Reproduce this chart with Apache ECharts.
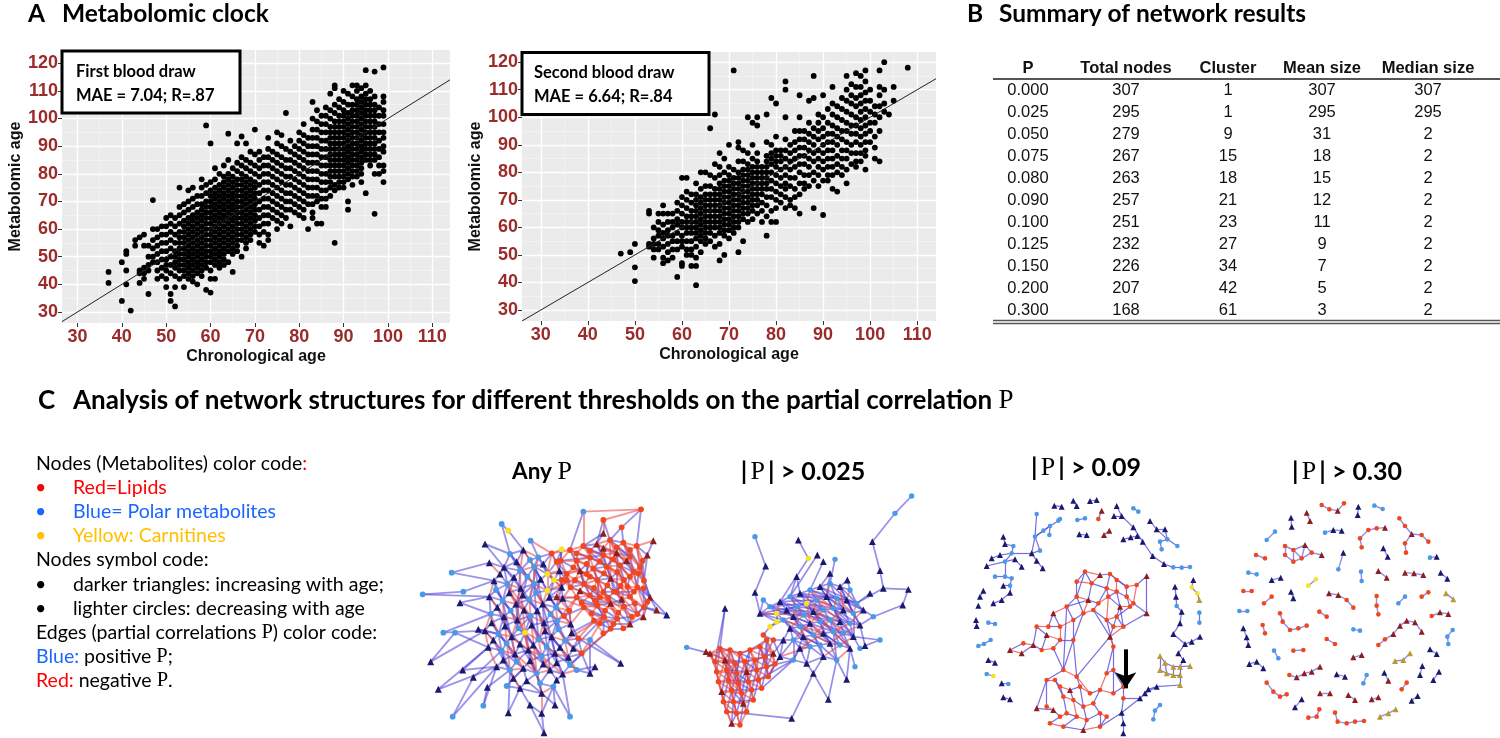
<!DOCTYPE html>
<html>
<head>
<meta charset="utf-8">
<script src="https://cdn.jsdelivr.net/npm/echarts@6/dist/echarts.min.js"></script>
<style>
html, body { margin: 0; padding: 0; background: #fff; }
#chart { width: 1500px; height: 738px; }
</style>
</head>
<body>
<div id="chart"></div>
<script>
// ── Panel A: metabolomic clock scatter (one row per chronological age: [age, metabolomic ages...]) ──
const ageTicks = [30, 40, 50, 60, 70, 80, 90, 100, 110]
const ageMinor = [35, 45, 55, 65, 75, 85, 95, 105]
const metTicks = [30, 40, 50, 60, 70, 80, 90, 100, 110, 120]
const metMinor = [35, 45, 55, 65, 75, 85, 95, 105, 115]

const firstDraw = [
	[37, 44.5, 40.5],
	[40, 48, 34],
	[41, 52, 51, 45, 40],
	[42, 30.5],
	[43, 56, 54],
	[44, 57, 45, 44, 40.5],
	[45, 58, 54, 46, 44, 42],
	[46, 54, 50, 47, 45, 36.5],
	[47, 70.5, 60, 56, 53, 50, 48],
	[48, 60, 57, 54, 51, 48, 45, 42],
	[49, 61, 58, 55, 52, 49, 46, 43],
	[50, 64, 61, 58, 55, 52, 49, 47, 45, 42, 39],
	[51, 65, 62, 59, 56, 53, 50, 47, 44, 36.5, 34],
	[52, 64, 61, 58, 55, 52, 50, 48, 46, 43, 39, 32],
	[53, 75, 68, 65, 62, 59, 57, 55, 53, 51, 49, 47, 45, 42],
	[54, 69, 66, 63, 61, 59, 57, 55, 53, 51, 49, 47, 45, 43, 39],
	[55, 74, 70, 67, 64, 62, 60, 58, 56, 54, 52, 50, 48, 46, 44, 42],
	[56, 75, 71, 68, 65, 63, 61, 59, 57, 55, 53, 51, 49, 47, 45, 43, 41],
	[57, 72, 69, 66, 64, 62, 60, 58, 56, 54, 52, 50, 48, 46, 44, 40],
	[58, 78, 75, 72, 69, 67, 65, 63, 61, 59, 57, 55, 53, 51, 49, 47, 45, 43],
	[59, 97.5, 76, 73, 70, 68, 66, 64, 62, 60, 58, 56, 54, 52, 50, 48, 46, 38],
	[60, 91, 77, 74, 72, 70, 68, 66, 64, 62, 60, 58, 56, 54, 52, 50, 48, 45, 42, 37],
	[61, 82, 78, 75, 73, 71, 69, 67, 65, 63, 61, 59, 57, 55, 53, 51, 49, 47, 42],
	[62, 80, 76, 74, 72, 70, 68, 66, 64, 62, 60, 58, 56, 54, 52, 50, 48, 46],
	[63, 83, 79, 77, 75, 73, 71, 69, 67, 65, 63, 61, 59, 57, 55, 53, 51, 49, 47],
	[64, 94.5, 85, 80, 78, 76, 74, 72, 70, 68, 66, 64, 62, 60, 58, 56, 54, 52, 48],
	[65, 82, 79, 77, 75, 73, 71, 69, 67, 65, 63, 61, 59, 57, 55, 53, 51, 44.5],
	[66, 91, 84, 81, 78, 76, 74, 72, 70, 68, 66, 64, 62, 60, 58, 56, 54, 52],
	[67, 93.5, 86, 83, 80, 78, 76, 74, 72, 70, 68, 66, 64, 62, 60, 58, 56, 50],
	[68, 91, 85, 82, 79, 77, 75, 73, 71, 69, 67, 65, 63, 61, 59, 57, 55, 53],
	[69, 88, 84, 81, 78, 76, 74, 72, 70, 68, 66, 64, 62, 60, 58, 56],
	[70, 96, 87, 83, 80, 77, 75, 73, 71, 69, 67, 65, 63, 61, 59],
	[71, 88, 85, 82, 79, 76, 73, 70, 67, 64, 61, 58, 55],
	[72, 86, 83, 80, 77, 74, 71, 68, 65, 62, 59, 54],
	[73, 93, 89, 86, 83, 80, 77, 74, 71, 68, 65, 62, 58, 56],
	[74, 88, 85, 82, 79, 76, 73, 70, 67, 64],
	[75, 95, 91, 87, 84, 81, 78, 75, 72, 69, 66, 63, 60],
	[76, 94, 90, 86, 83, 80, 77, 74, 71, 68, 65, 62],
	[77, 102, 89, 85, 82, 79, 76, 73, 70, 67, 64],
	[78, 92, 88, 85, 82, 79, 76, 73, 70, 67, 61],
	[79, 90, 87, 84, 81, 78, 75, 72, 69, 66],
	[80, 95, 92, 89, 86, 83, 80, 77, 74, 71, 68, 65],
	[81, 98, 94, 91, 88, 85, 82, 79, 76, 73, 70, 67, 64],
	[82, 93, 90, 87, 84, 81, 78, 75, 72, 69, 60],
	[83, 106, 100, 96, 93, 90, 87, 84, 81, 78, 75, 72, 69, 66, 64],
	[84, 103, 99, 96, 93, 90, 87, 84, 81, 78, 75, 72, 70, 62],
	[85, 101, 98, 95, 92, 89, 86, 83, 80, 77, 74, 71, 68, 62],
	[86, 104, 101, 98, 95, 92, 89, 86, 83, 80, 77, 74, 71, 68],
	[87, 109, 103, 100, 97, 95, 93, 91, 89, 87, 85, 83, 81, 79, 77, 75, 72],
	[88, 112, 111, 105, 102, 99, 97, 95, 93, 91, 89, 87, 85, 83, 81, 79, 76, 74, 55],
	[89, 107, 104, 101, 99, 97, 95, 93, 91, 89, 87, 85, 83, 81, 79, 77, 75],
	[90, 110, 106, 103, 101, 99, 97, 95, 93, 91, 89, 87, 85, 83, 81, 79, 77, 75],
	[91, 109, 105, 102, 100, 98, 96, 94, 92, 90, 88, 86, 84, 82, 80, 78, 70, 67],
	[92, 112, 108, 105, 103, 101, 99, 97, 95, 93, 91, 89, 87, 85, 83, 81, 79, 76],
	[93, 112, 110, 107, 105, 103, 101, 99, 97, 95, 93, 91, 89, 87, 85, 83, 81, 79],
	[94, 111, 108, 106, 104, 102, 100, 98, 96, 94, 92, 90, 88, 86, 84, 82, 80, 77],
	[95, 117.5, 112, 109, 107, 105, 103, 101, 99, 97, 95, 93, 91, 89, 87, 85, 73],
	[96, 110, 107, 105, 103, 101, 99, 97, 95, 93, 91, 89, 87, 85, 83],
	[97, 117, 108, 105, 103, 101, 99, 97, 95, 93, 91, 89, 87, 85, 80, 65.5],
	[98, 104, 101, 98, 95, 92, 89, 86, 83, 80],
	[99, 118.5, 108, 106, 103, 101, 98, 95, 93, 90, 88, 83, 81, 77],
]

const secondDraw = [
	[47, 50.5],
	[49, 51],
	[50, 54, 45.5, 40.5],
	[53, 66, 65, 54, 53],
	[54, 60, 56, 54, 52, 49],
	[55, 65, 62, 59, 57, 54, 52],
	[56, 68, 65, 61, 58, 56, 53, 49, 47],
	[57, 65, 62, 59, 57, 54, 51, 48],
	[58, 65, 62, 60, 57, 55, 52, 49],
	[59, 69, 66, 63, 61, 58, 55, 52, 42],
	[60, 78, 71, 68, 65, 62, 60, 57, 55, 53, 47, 46],
	[61, 78, 73, 70, 67, 64, 62, 60, 58, 55, 52, 50],
	[62, 72, 69, 66, 64, 62, 60, 58, 55, 52, 50, 46],
	[63, 76, 72, 70, 68, 66, 64, 62, 60, 58, 56, 53, 49, 46, 39],
	[64, 80, 74, 71, 69, 67, 65, 63, 61, 59, 57, 55, 51],
	[65, 80, 75, 72, 70, 68, 66, 64, 62, 60, 58, 56, 54],
	[66, 96, 79, 75, 72, 70, 68, 66, 64, 62, 60, 58, 55],
	[67, 101, 83, 78, 74, 72, 70, 68, 66, 64, 62, 60, 57, 53],
	[68, 87, 82, 79, 76, 74, 72, 70, 68, 66, 64, 62, 60, 58, 54, 48],
	[69, 85, 80, 77, 75, 73, 71, 69, 67, 65, 63, 61, 59, 57, 50],
	[70, 90, 82, 79, 77, 75, 73, 71, 69, 67, 65, 63, 61, 59, 56],
	[71, 117, 81, 78, 76, 74, 72, 70, 68, 66, 64, 62, 60, 58],
	[72, 91, 89, 84, 80, 78, 76, 74, 72, 70, 68, 66, 64, 62, 60, 51],
	[73, 88, 84, 81, 79, 77, 75, 73, 71, 69, 67, 65, 63, 55],
	[74, 100, 87, 83, 81, 79, 77, 75, 73, 71, 69, 67, 65, 62],
	[75, 98, 90, 85, 82, 80, 78, 76, 74, 72, 70, 68, 66, 63],
	[76, 100, 97, 87, 84, 82, 80, 78, 76, 74, 72, 70, 68, 65],
	[77, 82, 80, 78, 76, 74, 72, 69, 66, 62],
	[78, 101, 91, 86, 84, 82, 80, 78, 76, 74, 71, 68, 64, 57],
	[79, 107, 90, 87, 85, 83, 80, 77, 74, 71, 66, 62],
	[80, 105, 93, 88, 86, 84, 82, 79, 76, 73, 70, 67, 62],
	[81, 88, 86, 84, 81, 78, 75, 72, 69],
	[82, 113, 110, 100, 92, 88, 85, 82, 79, 76, 74, 71, 67],
	[83, 90, 87, 84, 81, 78, 75, 70, 68],
	[84, 95, 91, 88, 85, 82, 78, 74, 71, 67],
	[85, 108, 100, 95, 92, 89, 86, 83, 80, 76, 72, 65],
	[86, 95, 92, 89, 86, 83, 79, 76, 74],
	[87, 106, 98, 94, 91, 88, 85, 82, 79, 75],
	[88, 115, 107, 96, 93, 90, 87, 84, 80, 77, 67],
	[89, 101, 98, 95, 92, 88, 85, 82, 79, 75],
	[90, 108, 100, 96, 93, 90, 87, 84, 81, 77, 64.5],
	[91, 103, 98, 94, 91, 88, 85, 82, 79, 77],
	[92, 111, 105, 101, 97, 94, 91, 88, 85, 82, 79, 74],
	[93, 104, 100, 96, 93, 90, 86, 83, 80, 73],
	[94, 107, 103, 99, 95, 92, 88, 85, 82, 79],
	[95, 115, 110, 106, 102, 98, 95, 91, 88, 85, 81, 76],
	[96, 112, 108, 105, 101, 97, 94, 90, 87, 83],
	[97, 116, 111, 107, 104, 100, 97, 94, 91, 87, 84, 82],
	[98, 115, 111, 108, 105, 102, 99, 96, 93, 90, 87, 84],
	[99, 117, 113, 109, 106, 103, 100, 97, 94, 91, 88, 86, 81],
	[100, 110, 106, 102, 98, 95, 91],
	[101, 104, 101, 98, 93, 89, 85],
	[102, 117, 111, 108, 104, 100, 95, 84],
	[103, 120, 110, 105, 102],
	[104, 101],
	[105, 111, 106],
	[108, 118],
]

// ── Panel B: summary table ──
const tableHead = ['P', 'Total nodes', 'Cluster', 'Mean size', 'Median size']
const thresholdP = ['0.000', '0.025', '0.050', '0.075', '0.080', '0.090', '0.100', '0.125', '0.150', '0.200', '0.300']
const totalNodes = [307, 295, 279, 267, 263, 257, 251, 232, 226, 207, 168]
const clusterCount = [1, 1, 9, 15, 18, 21, 23, 27, 34, 42, 61]
const meanSize = [307, 295, 31, 18, 15, 12, 11, 9, 7, 5, 3]
const medianSize = [307, 295, 2, 2, 2, 2, 2, 2, 2, 2, 2]

// ── Panel C: networks. node = [x, y, type]; L lipid circle, l lipid triangle,
//    P polar circle, p polar triangle, C carnitine circle, c carnitine triangle.
//    edges: "a-b" pairs or "a:b,c,d" adjacency ──
const netAnyNodes = [
	[480, 330, 'L'], [520, 318, 'L'], [560, 312, 'l'], [600, 300, 'L'], [640, 308, 'L'], [680, 318, 'L'], [712, 345, 'l'],
	[500, 362, 'L'], [540, 352, 'L'], [580, 345, 'L'], [620, 338, 'l'], [660, 350, 'L'], [690, 382, 'L'],
	[470, 402, 'L'], [510, 392, 'l'], [550, 386, 'L'], [590, 380, 'L'], [630, 376, 'L'], [670, 396, 'L'], [702, 422, 'L'],
	[482, 442, 'L'], [522, 432, 'L'], [562, 420, 'L'], [602, 415, 'l'], [642, 420, 'L'], [682, 442, 'L'], [720, 472, 'l'],
	[500, 472, 'L'], [540, 466, 'L'], [580, 456, 'L'], [620, 456, 'L'], [660, 470, 'L'], [702, 502, 'L'],
	[522, 502, 'L'], [562, 496, 'L'], [602, 490, 'l'], [642, 500, 'L'], [682, 522, 'L'],
	[582, 530, 'L'], [622, 536, 'L'], [660, 552, 'l'], [602, 566, 'L'], [552, 542, 'L'],
	[452, 362, 'L'], [455, 420, 'L'], [440, 470, 'l'], [612, 455, 'L'], [652, 440, 'L'], [570, 472, 'L'], [530, 402, 'L'],
	[300, 342, 'P'], [340, 330, 'p'], [385, 352, 'P'], [425, 340, 'L'], [455, 328, 'C'],
	[282, 382, 'p'], [330, 392, 'P'], [372, 380, 'P'], [412, 402, 'C'], [448, 392, 'p'],
	[252, 422, 'p'], [292, 432, 'P'], [332, 445, 'p'], [372, 432, 'P'], [412, 452, 'C'], [455, 442, 'p'],
	[238, 470, 'p'], [278, 482, 'P'], [318, 492, 'p'], [358, 478, 'P'], [398, 492, 'p'], [438, 502, 'P'], [478, 512, 'L'],
	[242, 522, 'P'], [282, 530, 'p'], [322, 540, 'p'], [362, 528, 'P'], [402, 548, 'p'], [442, 542, 'P'], [482, 552, 'p'],
	[225, 572, 'p'], [265, 582, 'P'], [305, 590, 'p'], [345, 578, 'C'], [385, 598, 'P'], [425, 590, 'p'], [465, 602, 'P'], [505, 595, 'L'],
	[235, 622, 'p'], [275, 632, 'P'], [315, 642, 'p'], [355, 630, 'p'], [395, 648, 'P'], [435, 640, 'p'], [475, 652, 'p'], [515, 640, 'L'],
	[260, 680, 'p'], [300, 690, 'P'], [340, 685, 'p'], [380, 700, 'P'], [420, 690, 'p'], [458, 702, 'p'], [500, 690, 'P'],
	[330, 745, 'p'], [395, 760, 'p'], [430, 740, 'P'], [360, 795, 'p'], [395, 820, 'p'], [540, 600, 'P'], [540, 700, 'p'],
	[520, 215, 'P'], [693, 208, 'L'], [275, 252, 'P'], [295, 272, 'C'], [225, 312, 'p'], [362, 302, 'P'], [125, 398, 'P'], [38, 463, 'P'], [160, 455, 'P'], [150, 488, 'p'],
	[238, 368, 'p'], [730, 302, 'l'], [770, 525, 'p'], [632, 670, 'p'], [62, 665, 'p'], [135, 578, 'P'], [85, 748, 'p'], [128, 830, 'P'], [220, 797, 'P'], [295, 818, 'p'],
	[402, 878, 'p'], [435, 795, 'p'], [480, 830, 'P'], [555, 680, 'p'], [158, 690, 'p'], [190, 712, 'p'], [232, 742, 'p'], [290, 738, 'P'], [100, 578, 'P'], [205, 568, 'p'],
	[740, 510, 'l'], [580, 280, 'l'], [635, 262, 'L'], [580, 240, 'L'],
	[500, 340, 'L'], [540, 332, 'L'], [580, 325, 'l'], [620, 322, 'L'], [660, 330, 'L'], [698, 362, 'L'],
	[490, 382, 'L'], [530, 372, 'L'], [570, 365, 'L'], [610, 358, 'L'], [650, 362, 'l'], [685, 400, 'L'],
	[495, 420, 'L'], [540, 410, 'L'], [582, 400, 'L'], [622, 396, 'L'], [660, 410, 'L'], [700, 445, 'L'],
	[510, 452, 'l'], [552, 444, 'L'], [592, 436, 'L'], [632, 438, 'L'], [672, 455, 'L'], [712, 485, 'L'],
	[515, 488, 'L'], [555, 482, 'L'], [595, 474, 'L'], [635, 478, 'l'], [675, 490, 'L'],
	[545, 520, 'L'], [585, 512, 'L'], [625, 518, 'L'], [665, 530, 'L'], [700, 530, 'l'],
	[570, 550, 'L'], [610, 552, 'L'], [640, 565, 'L'], [580, 580, 'L'],
	[320, 365, 'p'], [360, 360, 'P'], [400, 372, 'p'], [440, 365, 'L'],
	[270, 402, 'p'], [312, 412, 'p'], [352, 410, 'P'], [392, 418, 'p'], [432, 420, 'C'], [470, 420, 'L'],
	[258, 450, 'P'], [298, 458, 'p'], [338, 465, 'p'], [378, 458, 'P'], [418, 472, 'p'], [458, 475, 'p'],
	[262, 502, 'p'], [302, 512, 'P'], [342, 510, 'p'], [382, 512, 'p'], [422, 522, 'P'], [462, 528, 'L'],
	[245, 548, 'p'], [285, 558, 'p'], [325, 565, 'P'], [365, 555, 'p'], [405, 572, 'p'], [445, 568, 'P'], [485, 578, 'p'],
	[250, 600, 'p'], [290, 610, 'P'], [330, 612, 'p'], [370, 615, 'p'], [410, 620, 'P'], [450, 622, 'p'], [490, 625, 'p'],
	[280, 660, 'p'], [320, 665, 'P'], [360, 662, 'p'], [400, 672, 'p'], [440, 668, 'p'], [480, 675, 'P'],
	[310, 715, 'p'], [350, 722, 'p'], [390, 730, 'P'], [440, 720, 'p'],
]
const netAnyPos = `1-2 3-4 5-6 8-9 10-11 14-49 15-16 17-18 20-21 22-23 24-47 25-26 28-48 29-46 30-31 34-35 36-37 38-39
0-7 2-9 4-11 6-12 8-49 10-16 12-18 14-21 15-22 17-24 19-26 21-28 23-29 47-31 26-32 28-34 30-36 32-37 34-38 36-40 38-41
1-9 3-11 8-16 10-18 15-23 21-48 23-46 27-34 29-36 2-16 9-23 16-30 11-25 28-38 33-38 43-8 6-19 12-26 1-16 10-30 7-21 22-34
50-51 52-53 55-56 57-58 60-61 62-63 64-65 66-67 68-69 70-71 73-74 75-76 77-78 80-81 82-83 84-85 86-87 88-89 90-91 92-93 94-95 96-97 98-99 100-101 102-109 103-104 106-107
50-55 52-57 54-59 55-61 57-63 59-65 61-67 63-69 65-71 66-73 68-75 70-77 72-79 74-81 76-83 78-85 79-87 81-89 83-91 85-93 87-95 89-97 91-99 93-101 95-109 99-104 103-106 105-107 108-109
50-56 52-58 55-62 57-64 60-67 62-69 64-71 67-75 69-77 71-79 74-82 76-84 78-86 81-90 83-92 85-94 89-98 91-100 93-102 50-63 56-75 63-84 70-93 77-100 57-70 67-90
110-0 112-50 112-113 113-51 114-50 114-55 115-52 116-60 116-120 117-118 117-66 118-60 119-73 119-66 120-55 121-6 122-26 122-32 123-87 123-108
124-80 124-125 125-88 126-88 126-96 127-96 127-135 128-96 128-136 129-103 129-97 130-106 130-107 131-104 131-105 132-105 132-101 133-102 133-109
134-88 134-96 135-89 136-97 137-98 137-103 138-80 138-73 139-80 139-81 140-26 140-32 141-1 141-2 142-3 142-4 143-2 143-3 111-5 111-142 54-43 59-13 65-44
144:7,8 145:8,9 146:9,10 147:10,11 148:11,12 149:12,19 150:14,43 151:14,49 152:15,16 153:16,17 154:17,18 155:19,25 156:20,21 157:21,22 158:22,23 159:23,24 160:24,47
161:26,32 162:27,28 163:28,48 164:29,46 165:30,46 166:31,30 167:25,37 168:33,34 169:34,35 170:35,46 171:36,35 172:36,37 173:42,38 174:38,39 175:39,40 176:40,39 177:40,26 178:41,39 179:41,40 180:41 181:38
182:50,51,55,56 183:51,52,56 184:52,53,57,58 185:53,54,58 186:55,60,61 187:55,56,61,62 188:56,57,62 189:57,58,63,64 190:58,59,64 191:59,65,13 192:60,61,66,67 193:61,62,67
194:62,63,68,69 195:63,64,69 196:64,65,70,71 197:65,71,72 198:66,67,73,74 199:67,68,74 200:68,69,75,76 201:69,70,76 202:70,71,77,78 203:71,72,78 204:73,74,80,81 205:74,75,81
206:75,76,82,83 207:76,77,83 208:77,78,84,85 209:78,79,85 210:79,86,87 211:80,81,88,89 212:81,82,89 213:82,83,90,91 214:83,84,91 215:84,85,92,93 216:85,86,93 217:86,87,94,95
218:89,90,96,97 219:90,91,97 220:91,92,98,99 221:92,93,99 222:93,94,100,101 223:94,95,101 224:97,98,103 225:98,99,103,104 226:99,100,104,105 227:100,101,105
182:188 183:189 184:190 187:193 188:194 189:195 190:196 192:199 193:200 194:201 195:202 196:203 198:205 199:206 200:207 201:208 202:209 204:212 205:213 206:214 207:215
208:216 209:217 211:218 212:219 213:220 214:221 215:222 216:223 218:224 220:226 191:20 197:27 203:33 210:42 185:13 190:44 196:45 217:38 223:41`
const netAnyNeg = `0-1 2-3 4-5 43-7 7-8 9-10 11-12 13-14 49-15 16-17 18-19 44-20 21-22 23-24 47-25 45-27 27-28 48-29 46-30 31-32 33-34 35-36 42-38 41-39
1-8 3-10 5-12 7-14 9-15 11-17 12-19 13-20 49-22 16-23 18-25 20-27 22-48 24-30 25-32 27-33 29-35 31-37 33-42 35-39 37-40 39-41 43-13 13-44 44-45 43-0
0-8 2-10 4-12 7-15 9-17 14-22 16-24 17-25 20-28 22-29 24-31 28-35 30-37 0-14 4-18 15-29 21-35 3-17 8-22 29-39 45-33 44-21 5-19 3-23 17-36 14-28
51-52 53-54 56-57 58-59 61-62 63-64 67-68 69-70 71-72 74-75 76-77 78-79 81-82 83-84 85-86 89-90 91-92 93-94 95-108 97-98 99-100 101-102 104-105
51-56 53-58 56-62 58-64 60-66 62-68 64-70 67-74 69-76 71-78 73-80 75-82 77-84 80-88 82-90 84-92 86-94 88-96 90-98 92-100 94-102 97-103 104-107 87-108
51-57 53-59 56-63 58-65 61-68 63-70 66-74 68-76 70-78 73-81 75-83 77-85 80-89 82-91 84-93 86-95 90-99 92-101 52-69 61-76 68-91 74-97 83-104 62-83 76-99
72-45 72-27 79-33 87-42 86-38 53-0 58-14 71-20 78-27 64-49 95-41 108-38 110-1 110-111 111-143 115-53 121-5 141-143
144:0,1 145:1,2 146:2,3 147:3,4 148:4,5 149:5,6 150:7,13 151:7,8 152:8,9 153:9,10 154:10,11 155:12,18 156:13,14 157:14,49 158:15,16 159:16,17 160:17,18 161:19,25
162:20,21 163:21,22 164:22,23 165:23,24 166:47,25 167:26,32 168:27,28 169:28,48 170:48,29 171:30,31 172:31,32 173:33,34 174:34,35 175:35,36 176:36,37 177:32,37 178:38,42 179:38,39 180:39,40 181:41,42
144:152 145:153 146:154 147:155 150:157 151:158 152:159 153:160 156:163 157:164 158:165 159:166 162:169 163:170 164:171 165:172 168:174 169:175 170:176 173:179
183:57 185:59 186:120 188:63 190:65 191:44 193:68 195:70 197:45 199:75 201:77 203:79 205:82 207:84 209:86 210:72 212:90 214:92 216:94 219:98 221:100 223:102`

const net025Nodes = [
	[900, 640, 'l'], [930, 625, 'L'], [960, 630, 'L'], [990, 640, 'L'], [1020, 630, 'L'], [1050, 620, 'L'], [1070, 600, 'L'],
	[915, 665, 'L'], [945, 660, 'l'], [975, 670, 'L'], [1005, 665, 'L'], [1035, 660, 'L'], [1065, 650, 'L'], [1090, 640, 'l'],
	[920, 695, 'L'], [950, 690, 'L'], [980, 700, 'L'], [1010, 695, 'l'], [1040, 690, 'L'], [1070, 680, 'L'], [1095, 672, 'L'],
	[925, 725, 'L'], [955, 720, 'L'], [985, 730, 'L'], [1015, 725, 'L'], [1045, 720, 'L'], [1075, 710, 'L'],
	[935, 755, 'l'], [965, 750, 'L'], [995, 760, 'L'], [1025, 750, 'L'], [1055, 745, 'L'],
	[940, 785, 'L'], [970, 785, 'L'], [1000, 790, 'l'], [1030, 780, 'L'],
	[950, 815, 'L'], [980, 820, 'L'], [1010, 815, 'L'],
	[965, 850, 'l'], [990, 855, 'L'],
	[1060, 585, 'L'], [1080, 560, 'C'], [1100, 545, 'C'],
	[1050, 520, 'p'], [1080, 500, 'P'], [1110, 485, 'p'], [1140, 470, 'P'], [1170, 460, 'p'], [1200, 450, 'P'], [1230, 440, 'p'], [1260, 430, 'P'], [1290, 440, 'p'], [1320, 450, 'P'],
	[1100, 520, 'C'], [1130, 510, 'p'], [1160, 500, 'P'], [1190, 490, 'C'], [1220, 480, 'P'], [1250, 470, 'p'], [1280, 475, 'P'], [1310, 480, 'p'], [1340, 490, 'P'],
	[1120, 540, 'P'], [1150, 530, 'p'], [1180, 525, 'P'], [1210, 515, 'p'], [1240, 510, 'P'], [1270, 505, 'P'], [1300, 510, 'p'], [1330, 520, 'P'], [1360, 510, 'p'],
	[1140, 565, 'p'], [1170, 560, 'P'], [1200, 550, 'p'], [1230, 545, 'P'], [1260, 540, 'P'], [1290, 545, 'p'], [1320, 550, 'P'], [1350, 555, 'p'],
	[1150, 600, 'P'], [1180, 590, 'p'], [1210, 585, 'P'], [1240, 580, 'p'], [1270, 575, 'P'], [1300, 580, 'P'], [1330, 590, 'p'],
	[1170, 625, 'p'], [1200, 620, 'P'], [1230, 615, 'P'], [1260, 610, 'p'], [1290, 615, 'P'], [1320, 625, 'p'],
	[1110, 650, 'p'], [1150, 660, 'P'], [1190, 670, 'p'], [1240, 650, 'p'], [1280, 660, 'P'], [1210, 700, 'p'], [1120, 600, 'p'], [1090, 600, 'L'],
	[1505, 168, 'P'], [1455, 220, 'P'], [1387, 305, 'p'], [1410, 392, 'p'], [1420, 445, 'p'], [1495, 448, 'p'], [1478, 495, 'p'], [1390, 530, 'P'], [1035, 290, 'P'], [1067, 378, 'p'],
	[1035, 457, 'p'], [945, 505, 'p'], [830, 622, 'P'], [888, 635, 'l'], [1165, 300, 'p'], [1195, 355, 'C'], [1222, 345, 'p'], [1240, 365, 'p'], [1275, 358, 'P'], [1260, 400, 'p'],
	[1145, 835, 'p'], [1255, 778, 'p'], [1310, 718, 'p'], [1335, 680, 'P'], [1350, 625, 'P'], [1365, 617, 'p'], [1312, 420, 'p'], [1380, 460, 'p'], [1160, 410, 'p'], [1060, 480, 'P'],
	[1410, 600, 'P'],
]
const net025Pos = `3-4 10-11 17-18 24-25 30-31 2-9 5-12 9-16 12-19 16-23 19-26 23-29 29-34 33-37 3-11 10-18 16-24 23-30 28-34 4-10 17-23 3-16 10-24 6-19
6-41 41-42 42-43 41-100 100-93 12-100 13-99 43-54 43-44 42-63 20-93 26-93 19-94 25-94 31-94
44-45 45-46 46-47 47-48 48-49 49-50 50-51 51-52 52-53 54-55 55-56 56-57 57-58 58-59 59-60 60-61 61-62 63-64 64-65 65-66 66-67 67-68 68-69 69-70 70-71
72-73 73-74 74-75 75-76 76-77 77-78 78-79 80-81 81-82 82-83 83-84 84-85 85-86 87-88 88-89 89-90 90-91 91-92 93-94 94-95 95-96 96-97 99-80
44-54 45-54 46-55 47-56 48-57 49-58 50-59 51-60 52-61 53-62 54-63 55-64 56-65 57-66 58-67 59-68 60-69 61-70 62-71 63-72 64-73 65-74 66-75 67-76 68-77 69-78 70-79
72-80 73-81 74-82 75-83 76-84 77-85 78-86 80-87 81-88 82-89 83-90 84-91 85-92 87-94 88-95 89-96 90-97 95-98 96-98
45-55 46-56 47-57 48-58 49-59 50-60 51-61 52-62 55-65 57-67 59-69 61-71 64-74 66-76 68-78 73-82 75-84 77-86 81-89 83-91 47-66 56-75 63-81 70-86 75-90 48-67
101-102 102-103 103-104 104-105 105-62 106-107 107-108 106-105 108-79 108-71 109-110 110-111 111-44 112-7 112-1 113-0 115-116 116-46 117-47 118-49 119-51 120-50 120-59
121-98 121-36 122-98 122-97 123-97 123-92 124-92 125-86 126-79 126-131 127-52 127-53 128-62 129-47 129-48 130-44 130-45 131-86
1-14 2-15 3-16 4-17 5-18 6-12 13-19 8-22 9-22 10-23 11-24 12-25 20-26 15-27 16-28 17-29 18-30 19-31 22-32 23-33 24-34 25-35 28-36 29-37 30-38 33-39 34-40 1-3 4-6 8-10 11-13 15-17 18-20 22-24 28-30 33-35 37-39 5-26 1-23
44-56 45-57 46-58 47-59 48-60 49-61 50-62 54-65 55-66 56-67 57-68 58-69 59-70 60-71 63-73 64-74 65-76 66-77 67-78 68-79 72-81 73-82 74-84 75-85 76-86 80-88 81-89 82-90 83-91 84-92
87-95 88-96 89-97 93-80 94-81 44-63 45-64 46-65 50-68 52-70 55-73 57-75 59-77 61-79 64-82 66-84 68-86 72-88 74-90 76-92 80-94 82-96 84-97 99-72 99-93 100-99`
const net025Neg = `0-1 1-2 2-3 4-5 5-6 7-8 8-9 9-10 11-12 12-13 14-15 15-16 16-17 18-19 19-20 21-22 22-23 23-24 25-26 27-28 28-29 29-30 32-33 33-34 34-35 36-37 37-38 39-40
0-7 1-8 3-10 4-11 6-13 7-14 8-15 10-17 11-18 13-20 14-21 15-22 17-24 18-25 21-27 22-28 24-30 25-31 27-32 28-33 30-35 32-36 34-38 36-39 37-40 38-40
0-8 1-9 2-10 4-12 5-13 7-15 8-16 9-17 11-19 12-20 14-22 15-23 17-25 18-26 21-28 22-29 24-31 27-33 29-35 32-37 1-7 2-8 9-15 11-17 0-9 15-29 20-26 8-21
114-0 114-7 65-75 58-68 60-70 74-83 76-85 82-90 84-92 44-65 49-68 58-77 57-74 73-88 66-84
0-14 1-15 2-16 3-17 4-18 5-19 6-20 7-21 8-22 9-23 10-24 11-25 12-26 14-27 15-28 16-29 17-30 18-31 21-32 22-33 23-34 24-35 27-36 28-37 29-38 32-39 33-40 0-2 3-5 7-9 10-12 14-16 17-19 21-23 24-26 27-29 32-34 36-38 2-22 9-29 16-34
46-54 49-57 51-59 53-61 56-64 58-66 60-68 62-70 65-72 67-74 69-76 71-78 74-80 76-82 78-84 79-85 83-87 85-90 86-91 88-93 91-96 92-97 47-65 52-69 57-76 63-83`

const net09Nodes = [
	[375, 395, 'L'], [420, 405, 'l'], [450, 402, 'L'], [470, 420, 'L'], [500, 440, 'L'], [530, 435, 'L'], [560, 408, 'l'],
	[350, 425, 'L'], [395, 430, 'L'], [440, 445, 'L'], [470, 455, 'L'], [500, 470, 'L'], [520, 490, 'L'],
	[350, 470, 'L'], [385, 480, 'l'], [415, 490, 'L'], [445, 470, 'L'], [480, 500, 'l'], [510, 500, 'L'],
	[470, 530, 'L'], [440, 540, 'L'], [460, 560, 'L'], [490, 560, 'L'], [560, 520, 'l'],
	[320, 500, 'L'], [280, 520, 'l'], [300, 560, 'L'], [340, 540, 'L'], [370, 520, 'L'], [400, 510, 'L'],
	[265, 560, 'L'], [230, 560, 'L'], [260, 585, 'l'], [300, 600, 'L'], [340, 600, 'L'], [280, 625, 'L'],
	[220, 615, 'l'], [190, 610, 'L'], [150, 630, 'l'], [185, 640, 'l'], [245, 630, 'L'],
	[450, 590, 'l'], [460, 620, 'L'], [440, 700, 'L'], [460, 690, 'L'], [310, 690, 'L'], [350, 710, 'L'],
	[260, 720, 'L'], [285, 720, 'L'], [300, 740, 'L'], [330, 750, 'l'], [360, 740, 'L'], [390, 760, 'L'], [420, 750, 'L'], [460, 760, 'L'], [490, 740, 'L'],
	[310, 770, 'L'], [340, 780, 'L'], [370, 800, 'L'], [400, 790, 'L'], [260, 800, 'L'], [280, 810, 'l'], [230, 805, 'l'],
	[300, 830, 'L'], [320, 820, 'L'], [350, 830, 'L'], [380, 840, 'L'], [420, 820, 'L'], [440, 830, 'L'],
	[270, 850, 'L'], [310, 860, 'L'], [370, 870, 'l'], [420, 860, 'L'], [490, 775, 'L'], [485, 818, 'p'], [490, 850, 'p'], [490, 880, 'p'],
	[283, 197, 'p'], [305, 200, 'p'], [340, 182, 'p'], [350, 198, 'p'], [390, 183, 'p'], [410, 180, 'p'], [425, 212, 'l'], [415, 237, 'L'],
	[352, 240, 'P'], [375, 235, 'P'], [358, 283, 'p'], [380, 285, 'p'], [432, 285, 'l'], [448, 272, 'l'], [462, 228, 'p'], [485, 228, 'p'], [470, 198, 'p'],
	[520, 262, 'p'], [548, 305, 'p'], [578, 348, 'p'], [612, 372, 'p'], [640, 382, 'P'], [665, 383, 'P'], [690, 381, 'P'],
	[520, 205, 'P'], [535, 215, 'P'], [490, 298, 'p'], [512, 292, 'p'], [532, 288, 'p'],
	[570, 243, 'p'], [590, 268, 'p'], [615, 268, 'p'], [622, 298, 'P'], [600, 305, 'P'], [605, 328, 'P'], [652, 318, 'P'],
	[230, 222, 'P'], [225, 290, 'P'], [270, 258, 'P'], [295, 242, 'P'], [268, 285, 'P'], [250, 272, 'P'],
	[215, 340, 'p'], [240, 332, 'P'], [230, 362, 'p'], [248, 385, 'p'],
	[130, 290, 'p'], [135, 312, 'p'], [160, 318, 'P'], [155, 340, 'P'], [120, 345, 'p'], [135, 365, 'P'], [165, 358, 'p'], [185, 380, 'p'],
	[95, 355, 'p'], [80, 378, 'p'], [105, 410, 'P'], [135, 410, 'P'], [155, 415, 'P'], [150, 437, 'P'], [130, 437, 'p'],
	[60, 470, 'p'], [70, 452, 'p'], [100, 490, 'p'], [125, 480, 'p'], [150, 458, 'p'], [55, 497, 'p'],
	[48, 540, 'p'], [50, 558, 'p'], [85, 548, 'P'], [105, 552, 'P'], [55, 618, 'P'], [72, 612, 'P'], [92, 600, 'P'],
	[85, 660, 'p'], [105, 668, 'p'], [80, 702, 'P'], [100, 708, 'C'], [125, 730, 'p'], [145, 732, 'P'], [130, 772, 'p'], [150, 778, 'p'],
	[645, 440, 'p'], [648, 470, 'p'], [650, 498, 'P'], [665, 515, 'p'], [660, 550, 'p'],
	[700, 420, 'p'], [695, 442, 'C'], [712, 460, 'C'], [718, 480, 'c'], [718, 518, 'P'], [718, 548, 'P'],
	[720, 590, 'p'], [695, 605, 'p'], [675, 612, 'p'], [640, 582, 'p'], [655, 640, 'p'], [670, 660, 'p'],
	[600, 648, 'c'], [615, 668, 'c'], [640, 680, 'c'], [660, 680, 'c'], [620, 700, 'c'], [640, 705, 'c'], [660, 705, 'c'], [690, 678, 'c'], [600, 690, 'c'], [660, 735, 'c'],
	[590, 740, 'p'], [565, 748, 'p'], [540, 775, 'p'], [555, 760, 'p'], [600, 795, 'P'], [585, 812, 'P'], [580, 838, 'P'], [300, 237, 'P'],
]
const net09Pos = `1-2 3-4 5-6 0-7 8-9 10-11 2-9 4-11 6-23 12-23 7-13 14-15 16-10 16-17 18-12 8-14 9-16 10-17 11-18 13-24 15-29 17-19 18-19 20-21 22-19 20-29 17-22 22-23
25-26 27-28 24-27 25-30 26-30 31-32 33-34 34-27 33-35 40-36 37-38 39-36 32-40 31-36 28-34 21-41 42-43 43-44 44-54 42-44 34-45 35-45 46-51 41-46 45-47 48-49 50-51 52-53 54-55 55-73
47-60 48-56 49-56 57-58 59-53 50-57 51-58 61-62 62-47 61-63 64-56 64-65 66-67 68-72 63-69 70-71 65-70 66-71 58-66 59-67 67-72 72-74 73-74 74-75 75-76 55-44 9-15 13-28 2-4 0-8 14-24 29-41 19-21 24-45 0-13 34-46 20-42
77-78 79-80 81-82 83-84 85-86 87-88 89-90 93-92 91-92 92-94 94-95 95-96 96-97 97-98 98-99 99-100 101-102 103-104 104-105 106-107 107-108 108-109 109-110 110-111 109-112 107-109
113-114 114-115 115-116 115-117 114-118 118-115 114-119 119-120 119-121 121-122 120-114 123-124 124-125 125-126 126-127 126-128 128-129 129-130 126-119 131-127 132-128
133-134 134-135 135-136 136-137 134-128 138-139 140-141 141-142 142-136 144-145 146-147 148-149 149-150 151-152 153-154 155-156 157-158
159-160 160-161 161-162 162-163 164-165 165-166 166-167 168-169 170-171 171-172 173-172 172-174 174-175 176-177 177-178 178-179 179-183 177-180 180-181 181-182 182-179 178-181 184-180 182-185 176-184 175-179
185-186 186-187 74-188 188-189 189-186 73-188 190-191 191-192 193-116 163-173`
const net09Neg = `0-1 2-3 4-5 7-8 9-10 11-12 13-14 15-16 17-18 19-20 21-22 24-25 26-27 28-29 30-31 32-33 35-40 36-37 38-39 45-46 47-48 49-50 51-52 53-54 56-57 58-59 60-61 63-64 65-66 67-68 69-70 71-72
1-8 3-10 5-12 14-28 16-20 22-41 43-53 46-52 57-65 26-33 41-42`

const net30Nodes = [
	[1085, 195, 'L'], [1108, 208, 'L'], [1133, 212, 'l'], [1152, 190, 'L'], [1195, 200, 'p'], [1193, 225, 'p'], [1243, 197, 'P'], [1268, 207, 'P'],
	[993, 233, 'p'], [995, 260, 'p'], [1040, 218, 'l'], [1050, 243, 'l'], [920, 300, 'P'], [945, 275, 'P'], [1095, 278, 'P'], [1120, 270, 'p'], [1145, 272, 'p'],
	[1200, 295, 'L'], [1225, 270, 'L'], [1250, 265, 'L'], [1275, 263, 'l'], [1205, 322, 'L'],
	[1318, 235, 'L'], [1335, 258, 'L'], [1355, 282, 'l'], [1335, 310, 'L'], [1338, 338, 'L'], [1385, 285, 'L'], [1405, 305, 'L'],
	[975, 318, 'L'], [1000, 330, 'L'], [1035, 315, 'l'], [1055, 338, 'L'], [1085, 345, 'l'], [975, 345, 'L'], [1000, 365, 'L'], [1025, 355, 'L'],
	[888, 345, 'L'], [915, 355, 'L'], [1270, 325, 'p'], [1283, 350, 'p'], [1150, 338, 'p'], [1135, 388, 'P'], [1410, 353, 'P'], [1430, 350, 'p'],
	[865, 398, 'P'], [890, 403, 'P'], [935, 420, 'p'], [962, 413, 'p'], [1045, 437, 'C'], [1068, 418, 'C'], [1203, 395, 'P'], [1205, 423, 'P'],
	[1255, 393, 'l'], [1280, 413, 'l'], [1335, 398, 'l'], [1362, 400, 'l'], [1390, 405, 'l'], [1442, 398, 'p'], [1462, 416, 'p'],
	[850, 453, 'L'], [875, 453, 'L'], [912, 490, 'L'], [935, 470, 'L'], [993, 455, 'p'], [1000, 475, 'p'],
	[1107, 460, 'l'], [1135, 465, 'l'], [1160, 480, 'L'], [1180, 503, 'L'], [1250, 468, 'L'], [1250, 497, 'L'], [1255, 523, 'L'],
	[1335, 470, 'P'], [1315, 490, 'P'], [1385, 470, 'L'], [1405, 457, 'L'], [1458, 460, 'c'], [1480, 478, 'c'], [838, 513, 'P'], [862, 513, 'P'],
	[960, 520, 'L'], [968, 545, 'L'], [990, 570, 'L'], [1015, 565, 'L'], [1040, 557, 'L'], [1078, 515, 'L'], [1100, 530, 'L'],
	[1415, 528, 'L'], [1440, 517, 'l'], [1465, 522, 'l'], [908, 555, 'L'], [915, 580, 'L'], [1180, 568, 'P'], [1200, 572, 'P'],
	[1255, 615, 'L'], [1275, 598, 'L'], [1300, 582, 'l'], [1320, 557, 'l'], [1340, 542, 'l'], [1365, 547, 'l'], [1385, 575, 'l'],
	[1478, 570, 'P'], [1462, 590, 'P'], [1465, 612, 'P'], [850, 565, 'p'], [860, 592, 'p'], [865, 615, 'p'],
	[1100, 597, 'L'], [1125, 612, 'L'], [1000, 632, 'L'], [1030, 630, 'L'], [942, 632, 'P'], [955, 655, 'P'], [1180, 652, 'l'], [1205, 645, 'l'],
	[1410, 628, 'p'], [1430, 642, 'p'], [1305, 663, 'c'], [1330, 660, 'c'], [1350, 640, 'c'], [868, 672, 'p'], [890, 665, 'p'], [910, 685, 'p'],
	[988, 705, 'L'], [1010, 712, 'l'], [1033, 700, 'l'], [1055, 695, 'l'], [1080, 680, 'l'], [1130, 703, 'p'], [1155, 710, 'p'],
	[1220, 705, 'P'], [1210, 730, 'P'], [1273, 698, 'p'], [1285, 722, 'l'], [1387, 678, 'p'], [1380, 705, 'p'], [1437, 695, 'p'], [1420, 720, 'p'],
	[920, 728, 'L'], [940, 755, 'L'], [960, 770, 'L'], [980, 763, 'L'], [1325, 748, 'L'], [1340, 728, 'L'], [1080, 760, 'l'], [1110, 760, 'l'],
	[1165, 765, 'l'], [1185, 780, 'l'], [1235, 778, 'l'], [1255, 772, 'l'], [1355, 782, 'p'], [1373, 768, 'p'], [1005, 802, 'p'], [1025, 778, 'p'],
	[1045, 833, 'L'], [1070, 830, 'L'], [1078, 808, 'L'], [1125, 818, 'L'], [1133, 845, 'L'], [1160, 850, 'L'], [1185, 845, 'L'], [1212, 843, 'L'],
	[1260, 830, 'c'], [1285, 820, 'c'], [1307, 808, 'c'],
]
const net30Pos = `0-1 1-2 2-3 4-5 6-7 8-9 10-11 12-13 14-15 15-16 17-18 18-19 19-20 17-21 22-23 23-24 24-25 25-26 24-27 27-28
29-30 30-31 31-32 32-33 29-34 34-35 35-36 36-32 30-35 30-36 31-36 37-38 39-40 41-42 43-44 45-46 47-48 49-50 51-52 53-54 55-56 56-57 58-59
60-61 62-63 64-65 66-67 67-68 68-69 70-71 71-72 73-74 75-76 77-78 79-80 81-82 82-83 83-84 84-85 86-87 88-89 89-90 91-92 93-94
95-96 96-97 97-98 98-99 99-100 100-101 102-103 103-104 105-106 106-107 108-109 110-111 112-113 114-115 116-117 118-119 119-120 121-122 122-123
124-125 125-126 126-127 127-128 129-130 131-132 133-134 135-136 137-138 139-140 140-141 141-142 143-144 145-146 147-148 149-150 151-152 153-154
155-156 156-157 158-159 159-160 160-161 161-162 163-164 164-165`

// ── Panel C: legend text ──
const legendLines = [
	'Nodes (Metabolites) color code{r|:}',
	'{r|Red=Lipids}',
	'{b|Blue= Polar metabolites}',
	'{y|Yellow: Carnitines}',
	'Nodes symbol code:',
	'darker triangles: increasing with age;',
	'lighter circles: decreasing with age',
	'Edges (partial correlations {s|P}) color code:',
	'{b|Blue:} positive {s|P};',
	'{r|Red:} negative {s|P}.',
]
const legendBullets = [null, '#ff0000', '#1a66ff', '#ffc000', null, '#000', '#000', null, null, null]
const netTitles = ['Any {s|P}', '|\u2009{s|P}\u2009| > 0.025', '|\u2009{s|P}\u2009| > 0.09', '|\u2009{s|P}\u2009| > 0.30']

const nodeColor = { L: '#f2461f', l: '#8e1d1d', P: '#4a99e8', p: '#1a1a6c', C: '#f5e31c', c: '#b99b30' }
const posColor = '#4a3cd6'
const negColor = '#e64242'
const tickRed = '#9b2a2a'

function toPoints(cols) {
	const pts = []
	for (const c of cols) for (let i = 1; i < c.length; i++) pts.push([c[0], c[i]])
	return pts
}

function parseEdges(s) {
	const out = []
	for (const tok of s.trim().split(/\s+/)) {
		if (tok.includes(':')) {
			const [a, rest] = tok.split(':')
			rest.split(',').forEach(b => out.push([Number(a), Number(b)]))
		} else {
			out.push(tok.split('-').map(Number))
		}
	}
	return out
}

function netSeries(nodes, pos, neg, gi, style) {
	const data = nodes.map((n, i) => {
		const tri = n[2] !== n[2].toUpperCase()
		return {
			id: 'n' + gi + '_' + i,
			value: [n[0], n[1]],
			symbol: tri ? 'triangle' : 'circle',
			symbolSize: tri ? style.tri : style.dot,
			itemStyle: { color: nodeColor[n[2]] },
		}
	})
	const links = []
	parseEdges(pos).forEach(([a, b]) => links.push({ source: a, target: b, lineStyle: { color: style.pos || posColor } }))
	if (neg) parseEdges(neg).forEach(([a, b]) => links.push({ source: a, target: b, lineStyle: { color: negColor } }))
	return {
		type: 'graph',
		coordinateSystem: 'cartesian2d',
		xAxisIndex: gi,
		yAxisIndex: gi,
		data,
		links,
		lineStyle: { width: style.width, opacity: style.opacity, curveness: 0 },
		silent: true,
		animation: false,
		z: 3,
	}
}

function gridLineSeries(gi) {
	const major = { color: '#ffffff', width: 1.3, type: 'solid' }
	const minor = { color: '#f7f7f7', width: 0.6, type: 'solid' }
	return {
		type: 'line',
		xAxisIndex: gi,
		yAxisIndex: gi,
		data: [],
		silent: true,
		z: 1,
		markLine: {
			z: 1,
			silent: true,
			animation: false,
			symbol: ['none', 'none'],
			label: { show: false },
			data: [
				...ageMinor.map(v => ({ xAxis: v, lineStyle: minor })),
				...metMinor.map(v => ({ yAxis: v, lineStyle: minor })),
				...ageTicks.map(v => ({ xAxis: v, lineStyle: major })),
				...metTicks.map(v => ({ yAxis: v, lineStyle: major })),
			],
		},
	}
}

function scatterAxes(gi, xr, yr, yNameGap) {
	const lab = { color: tickRed, fontWeight: 'bold', fontSize: 18, fontFamily: 'Liberation Sans' }
	const nameStyle = { color: '#111', fontWeight: 'bold', fontSize: 16, fontFamily: 'Liberation Sans' }
	return {
		x: {
			gridIndex: gi, type: 'value', min: xr[0], max: xr[1],
			name: 'Chronological age', nameLocation: 'middle', nameGap: 26, nameTextStyle: nameStyle,
			axisLine: { show: false },
			axisTick: { show: true, length: 4, lineStyle: { color: '#333' }, customValues: ageTicks },
			axisLabel: { ...lab, margin: 5, customValues: ageTicks },
			splitLine: { show: false },
		},
		y: {
			gridIndex: gi, type: 'value', min: yr[0], max: yr[1],
			name: 'Metabolomic age', nameLocation: 'middle', nameGap: yNameGap, nameRotate: 90, nameTextStyle: nameStyle,
			axisLine: { show: false },
			axisTick: { show: true, length: 4, lineStyle: { color: '#333' }, customValues: metTicks },
			axisLabel: { ...lab, margin: 4, customValues: metTicks },
			splitLine: { show: false },
		},
	}
}

const ax1 = scatterAxes(0, [26.5, 114], [26, 124.8], 38)
const ax2 = scatterAxes(1, [26, 114], [26, 123.7], 38)

// ── text blocks ──
const graphic = []
function txt(x, y, text, style) {
	graphic.push({ type: 'text', x, y, silent: true, z: 100, style: { text, fill: '#000', verticalAlign: 'middle', ...style } })
}

const titleFont = { fontFamily: 'Lato', fontWeight: 'bold', fontSize: 24.5 }
txt(28, 14, 'A', titleFont)
txt(62, 14, 'Metabolomic clock', titleFont)
txt(967, 14, 'B', titleFont)
txt(999, 14, 'Summary of network results', titleFont)
txt(38, 401, 'C', { ...titleFont, fontSize: 26 })
txt(73, 401, 'Analysis of network structures for different thresholds on the partial correlation {s|P}', {
	...titleFont, fontSize: 26, rich: { s: { fontFamily: 'Liberation Serif', fontSize: 27, fontWeight: 'normal' } },
})

graphic.push({ type: 'rect', shape: { x: 62, y: 51, width: 178, height: 62 }, style: { fill: '#fff', stroke: '#000', lineWidth: 3 }, z: 90, silent: true })
graphic.push({ type: 'rect', shape: { x: 522, y: 52.5, width: 187, height: 62 }, style: { fill: '#fff', stroke: '#000', lineWidth: 3 }, z: 90, silent: true })
const boxFont = { fontFamily: 'Lato', fontWeight: 'bold', fontSize: 16.5 }
txt(76, 71.5, 'First blood draw', boxFont)
txt(76, 96, 'MAE = 7.04; R=.87', boxFont)
txt(534, 72.5, 'Second blood draw', boxFont)
txt(534, 97, 'MAE = 6.64; R=.84', boxFont)

const colX = [1028, 1126, 1228, 1322, 1428]
const tabFont = { fontFamily: 'Liberation Sans', fontSize: 16.5, align: 'center', fill: '#111' }
tableHead.forEach((h, i) => txt(colX[i], 68, h, { ...tabFont, fontWeight: 'bold', fontSize: 16.5 }))
thresholdP.forEach((p, r) => {
	const y = 90.7 + r * 22
	const row = [p, totalNodes[r], clusterCount[r], meanSize[r], medianSize[r]]
	row.forEach((v, i) => txt(colX[i], y, String(v), tabFont))
})
graphic.push({ type: 'line', shape: { x1: 993, y1: 79, x2: 1500, y2: 79 }, style: { stroke: '#555', lineWidth: 2 }, silent: true })
graphic.push({ type: 'line', shape: { x1: 993, y1: 320.5, x2: 1500, y2: 320.5 }, style: { stroke: '#555', lineWidth: 1.5 }, silent: true })
graphic.push({ type: 'line', shape: { x1: 993, y1: 323.5, x2: 1500, y2: 323.5 }, style: { stroke: '#555', lineWidth: 1.5 }, silent: true })

const legSize = 19.5
const legRich = {
	r: { fill: '#ff0000', fontFamily: 'Lato', fontSize: legSize },
	b: { fill: '#1a66ff', fontFamily: 'Lato', fontSize: legSize },
	y: { fill: '#ffc000', fontFamily: 'Lato', fontSize: legSize },
	s: { fill: '#000', fontFamily: 'Liberation Serif', fontSize: legSize + 1 },
}
legendLines.forEach((line, i) => {
	const y = 463.3 + i * 24.2
	const bullet = legendBullets[i]
	if (bullet) txt(35, y, '•', { fontFamily: 'Lato', fontSize: legSize, fill: bullet })
	txt(bullet ? 73 : 36, y, line, { fontFamily: 'Lato', fontSize: legSize, rich: legRich })
})

const netTitleX = [542, 803, 1086, 1347]
const netTitleY = [472, 472, 468, 472]
netTitles.forEach((t, i) => txt(netTitleX[i], netTitleY[i], t, {
	fontFamily: 'Lato', fontWeight: 'bold', fontSize: i === 0 ? 22.5 : 25, align: 'center',
	rich: { s: { fontFamily: 'Liberation Serif', fontSize: 26, fontWeight: 'normal' } },
}))

const hiddenX = gi => ({ gridIndex: gi, type: 'value', min: 0, max: 1620, show: false })
const hiddenY = gi => ({ gridIndex: gi, type: 'value', min: 0, max: 894, inverse: true, show: false })

const option = {
	animation: false,
	backgroundColor: '#ffffff',
	grid: [
		{ left: 62, top: 50, width: 388, height: 273, show: true, backgroundColor: '#ebebeb', borderWidth: 0 },
		{ left: 522, top: 52, width: 414, height: 269, show: true, backgroundColor: '#ebebeb', borderWidth: 0 },
		{ left: 410, top: 440, width: 540, height: 298 },
		{ left: 960, top: 440, width: 540, height: 298 },
	],
	xAxis: [ax1.x, ax2.x, hiddenX(2), hiddenX(3)],
	yAxis: [ax1.y, ax2.y, hiddenY(2), hiddenY(3)],
	graphic,
	series: [
		gridLineSeries(0),
		gridLineSeries(1),
		{
			type: 'scatter', xAxisIndex: 0, yAxisIndex: 0, data: toPoints(firstDraw),
			symbolSize: 5.8, itemStyle: { color: '#000', opacity: 1 }, silent: true, z: 3,
		},
		{
			type: 'scatter', xAxisIndex: 1, yAxisIndex: 1, data: toPoints(secondDraw),
			symbolSize: 5.8, itemStyle: { color: '#000', opacity: 1 }, silent: true, z: 3,
		},
		{
			type: 'line', xAxisIndex: 0, yAxisIndex: 0, data: [[26.5, 26.5], [114, 114]],
			showSymbol: false, lineStyle: { color: '#222', width: 1 }, silent: true, z: 4,
		},
		{
			type: 'line', xAxisIndex: 1, yAxisIndex: 1, data: [[26, 26], [114, 114]],
			showSymbol: false, lineStyle: { color: '#222', width: 1 }, silent: true, z: 4,
		},
		netSeries(netAnyNodes, netAnyPos, netAnyNeg, 2, { width: 1.9, opacity: 0.55, dot: 5.8, tri: 7 }),
		netSeries(net025Nodes, net025Pos, net025Neg, 2, { width: 1.7, opacity: 0.58, dot: 5.4, tri: 6.8 }),
		netSeries(net09Nodes, net09Pos, net09Neg, 3, { width: 1.2, opacity: 0.75, dot: 4.6, tri: 6 }),
		netSeries(net30Nodes, net30Pos, null, 3, { width: 1.4, opacity: 0.85, dot: 4.6, tri: 6, pos: '#7a7ae8' }),
		{
			type: 'lines', coordinateSystem: 'cartesian2d', xAxisIndex: 3, yAxisIndex: 3,
			data: [{ coords: [[497, 628], [497, 745]] }],
			lineStyle: { color: '#000', width: 4, opacity: 1, curveness: 0 },
			symbol: ['none', 'arrow'], symbolSize: 16, silent: true, z: 10,
		},
	],
}

const chart = echarts.init(document.getElementById('chart'))
chart.setOption(option)
</script>
</body>
</html>
